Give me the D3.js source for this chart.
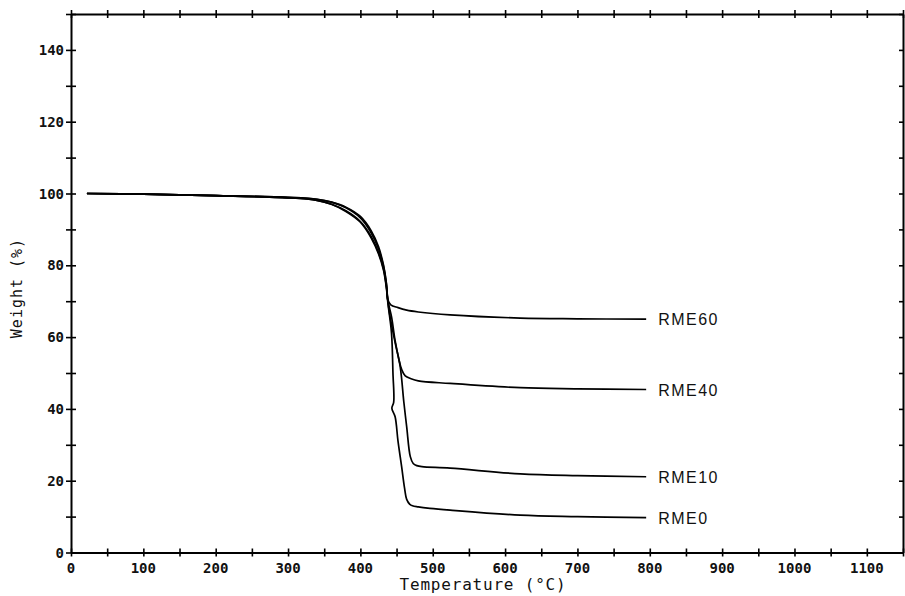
<!DOCTYPE html>
<html>
<head>
<meta charset="utf-8">
<script src="https://cdn.jsdelivr.net/npm/d3@7"></script>
<style>
  html, body { margin: 0; padding: 0; background: #fff; }
  svg { display: block; }
</style>
</head>
<body>
<svg id="chart" width="905" height="596"></svg>
<script>
// ---- Data ----
const xTickLabels = [0, 100, 200, 300, 400, 500, 600, 700, 800, 900, 1000, 1100];
const yTickLabels = [0, 20, 40, 60, 80, 100, 120, 140];
const seriesNames = ["RME60", "RME40", "RME10", "RME0"];

const rme60T = [22, 100, 200, 300, 340, 360, 380, 400, 415, 425, 432, 436, 438, 442, 452, 464, 480, 524, 621, 700, 795];
const rme60W = [100, 99.8, 99.4, 98.9, 98.4, 97.6, 96.2, 93.6, 89.6, 85.2, 80.0, 75.0, 70.4, 69.0, 68.2, 67.5, 67.0, 66.2, 65.3, 65.1, 65.0];

const rme40T = [22, 100, 200, 300, 340, 360, 380, 400, 415, 425, 432, 436, 438, 443, 448, 453, 457, 462, 470, 480, 524, 621, 700, 795];
const rme40W = [100, 99.8, 99.4, 98.9, 98.4, 97.6, 96.0, 93.2, 89.0, 84.6, 79.6, 74.6, 70.2, 65.7, 59.0, 54.0, 51.0, 49.2, 48.4, 47.8, 47.1, 45.9, 45.6, 45.4];

const rme10T = [22, 100, 200, 300, 340, 360, 380, 400, 415, 425, 432, 436, 438, 441, 448, 455, 460, 464, 469, 473, 478, 485, 524, 621, 700, 795];
const rme10W = [100, 99.8, 99.4, 98.8, 98.1, 97.0, 95.2, 92.2, 88.0, 83.6, 79.0, 74.0, 70.0, 65.7, 58.5, 51.8, 42.0, 35.0, 26.7, 24.8, 24.2, 23.9, 23.5, 21.9, 21.4, 21.1];

const rme0T = [22, 100, 200, 300, 340, 360, 380, 400, 415, 425, 432, 436, 438, 443, 445, 446, 443.5, 448, 452, 457, 461, 464, 468, 472, 480, 496, 524, 621, 700, 795];
const rme0W = [100, 99.8, 99.4, 98.8, 98.1, 97.0, 95.0, 92.0, 87.6, 83.2, 78.6, 73.6, 69.5, 61.1, 50.0, 41.8, 40.2, 37.8, 31.0, 23.9, 18.0, 14.8, 13.5, 13.0, 12.7, 12.3, 11.8, 10.4, 10.0, 9.7];

const seriesT = [rme60T, rme40T, rme10T, rme0T];
const seriesW = [rme60W, rme40W, rme10W, rme0W];

// ---- Layout ----
const svg = d3.select("#chart");
const mLeft = 71, mRight = 903, mTop = 14, mBottom = 552.5;

const x = d3.scaleLinear().domain([0, 1150]).range([mLeft, mRight]);
const y = d3.scaleLinear().domain([0, 150]).range([mBottom, mTop]);

const tickFont = "'DejaVu Sans Mono', monospace";

const g = svg.append("g");

const minorX = d3.range(0, 1151, 50);
const minorY = d3.range(0, 151, 10);

const axisBottom = d3.axisBottom(x).tickValues(minorX).tickSizeInner(4).tickSizeOuter(0).tickFormat("");
const gb = g.append("g").attr("transform", `translate(0,${mBottom})`).call(axisBottom);
gb.selectAll(".tick line").attr("y1", -4).attr("y2", 4);

const axisTop = d3.axisTop(x).tickValues(minorX).tickSizeInner(4).tickSizeOuter(0).tickFormat("");
const gt = g.append("g").attr("transform", `translate(0,${mTop})`).call(axisTop);
gt.selectAll(".tick line").attr("y1", -4).attr("y2", 4);

const axisLeft = d3.axisLeft(y).tickValues(minorY).tickSizeInner(5).tickSizeOuter(0).tickFormat("");
const gl = g.append("g").attr("transform", `translate(${mLeft},0)`).call(axisLeft);
gl.selectAll(".tick line").attr("x1", -5).attr("x2", 5);

const axisRight = d3.axisRight(y).tickValues(minorY).tickSizeInner(-4).tickSizeOuter(0).tickFormat("");
const gr = g.append("g").attr("transform", `translate(${mRight},0)`).call(axisRight);

g.selectAll(".domain").attr("stroke", "#000").attr("stroke-width", 2);
g.selectAll(".tick line").attr("stroke", "#000").attr("stroke-width", 1.6);

// Tick labels
svg.append("g").selectAll("text").data(xTickLabels).join("text")
  .attr("x", d => x(d)).attr("y", 573)
  .attr("text-anchor", "middle")
  .attr("font-family", tickFont).attr("font-weight", "bold").attr("font-size", 14)
  .attr("fill", "#111")
  .text(d => d);

svg.append("g").selectAll("text").data(yTickLabels).join("text")
  .attr("x", 64).attr("y", d => y(d) + 5)
  .attr("text-anchor", "end")
  .attr("font-family", tickFont).attr("font-weight", "bold").attr("font-size", 14)
  .attr("fill", "#111")
  .text(d => d);

// Axis titles
svg.append("text")
  .attr("x", 483).attr("y", 590)
  .attr("text-anchor", "middle")
  .attr("font-family", tickFont).attr("font-size", 16)
  .attr("letter-spacing", 0.8)
  .attr("fill", "#111")
  .text("Temperature (°C)");

svg.append("text")
  .attr("transform", "translate(22,288) rotate(-90)")
  .attr("text-anchor", "middle")
  .attr("font-family", tickFont).attr("font-size", 15)
  .attr("letter-spacing", 1)
  .attr("fill", "#111")
  .text("Weight (%)");

// Curves
const line = d3.line()
  .x(d => x(d[0])).y(d => y(d[1]))
  .curve(d3.curveCatmullRom.alpha(0.5));

seriesNames.forEach((name, i) => {
  const pts = seriesT[i].map((t, j) => [t, seriesW[i][j]]);
  svg.append("path")
    .datum(pts)
    .attr("d", line)
    .attr("fill", "none")
    .attr("stroke", "#000")
    .attr("stroke-width", 1.7)
    .attr("stroke-linejoin", "round");
  const last = pts[pts.length - 1];
  svg.append("text")
    .attr("x", x(last[0]) + 12)
    .attr("y", y(last[1]) + 6)
    .attr("font-family", "'Liberation Sans', Arial, sans-serif")
    .attr("font-size", 16)
    .attr("letter-spacing", 1.5)
    .attr("fill", "#111")
    .text(name);
});
</script>
</body>
</html>
